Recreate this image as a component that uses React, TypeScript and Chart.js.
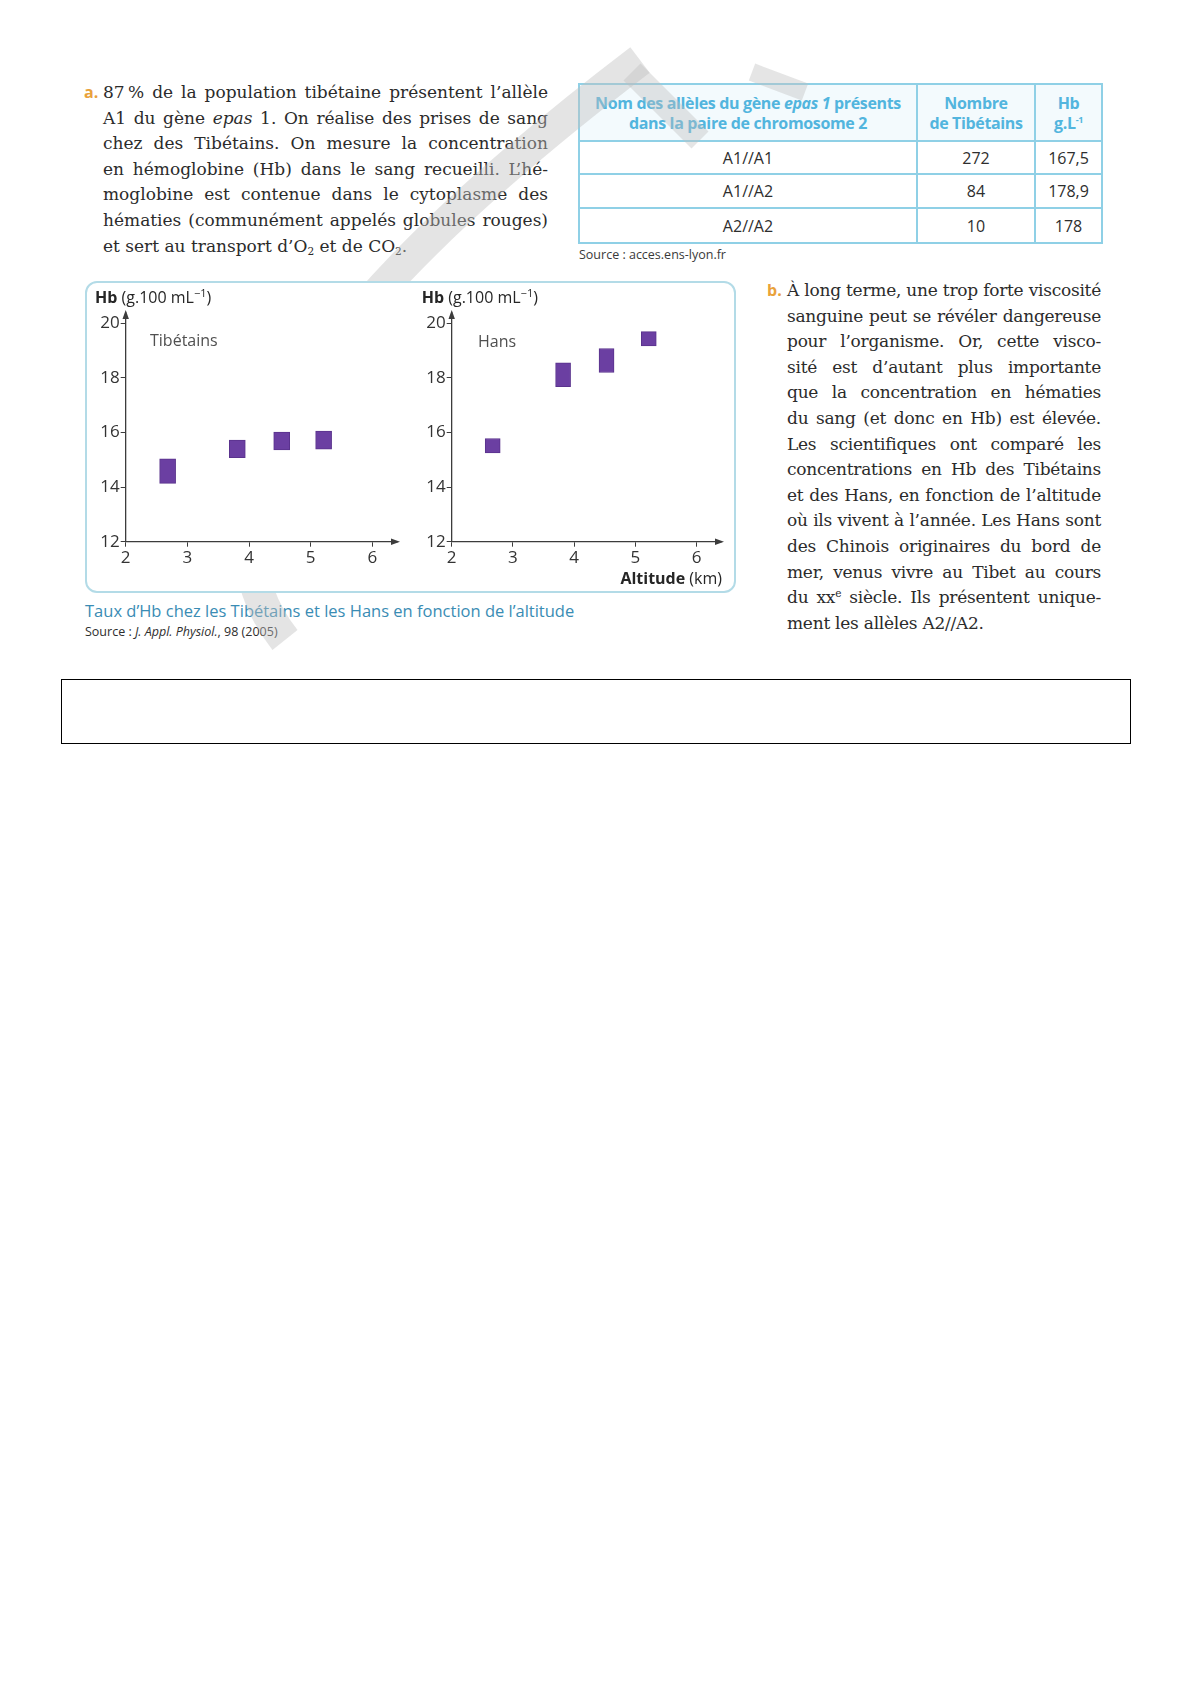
import React, { useEffect, useRef } from "react";
import { Chart, registerables } from "chart.js";

Chart.register(...registerables);

// ---------- data ----------
const altitudeTicks = [2, 3, 4, 5, 6];
const hbTicks = [12, 14, 16, 18, 20];

const tibetAltitudes = [2.68, 3.81, 4.53, 5.21];
const tibetHbLow = [14.14, 15.08, 15.36, 15.39];
const tibetHbHigh = [15.04, 15.72, 16.02, 16.05];

const hanAltitudes = [2.67, 3.82, 4.53, 5.22];
const hanHbLow = [15.25, 17.68, 18.2, 19.17];
const hanHbHigh = [15.78, 18.55, 19.08, 19.7];

const tableAlleles = ["A1//A1", "A1//A2", "A2//A2"];
const tableCounts = ["272", "84", "10"];
const tableHb = ["167,5", "178,9", "178"];

// ---------- chart helpers ----------
const FONT = '"Open Sans", "Noto Sans", sans-serif';
const AXIS = "#3c3c3c";

const decorPlugin = {
  id: "decor",
  afterDraw(chart: any, _args: any, opts: any) {
    const { ctx, chartArea } = chart;
    const { left, top, right, bottom } = chartArea;
    ctx.save();
    ctx.fillStyle = AXIS;
    ctx.beginPath();
    ctx.moveTo(left, top - 3);
    ctx.lineTo(left - 3.2, top + 6);
    ctx.lineTo(left + 3.2, top + 6);
    ctx.closePath();
    ctx.fill();
    ctx.beginPath();
    ctx.moveTo(right + 3, bottom);
    ctx.lineTo(right - 6, bottom - 3.2);
    ctx.lineTo(right - 6, bottom + 3.2);
    ctx.closePath();
    ctx.fill();

    ctx.textBaseline = "alphabetic";
    ctx.textAlign = "left";
    ctx.fillStyle = "#262626";
    let x = opts.titleX;
    const y = opts.titleY;
    ctx.font = `bold 16px ${FONT}`;
    ctx.fillText("Hb", x, y);
    x += ctx.measureText("Hb").width;
    ctx.font = `16px ${FONT}`;
    ctx.fillText(" (g.100 mL", x, y);
    x += ctx.measureText(" (g.100 mL").width;
    ctx.font = `11px ${FONT}`;
    ctx.fillText("\u22121", x, y - 6);
    x += ctx.measureText("\u22121").width;
    ctx.font = `16px ${FONT}`;
    ctx.fillText(")", x, y);

    ctx.fillStyle = "#505050";
    ctx.font = `16px ${FONT}`;
    ctx.fillText(opts.group, opts.groupX, opts.groupY);

    if (opts.showXTitle) {
      ctx.fillStyle = "#262626";
      const rest = " (km)";
      ctx.font = `16px ${FONT}`;
      const wRest = ctx.measureText(rest).width;
      ctx.fillText(rest, opts.xTitleRight - wRest, opts.xTitleY);
      ctx.font = `bold 16px ${FONT}`;
      const wBold = ctx.measureText("Altitude").width;
      ctx.fillText("Altitude", opts.xTitleRight - wRest - wBold, opts.xTitleY);
    }
    ctx.restore();
  },
};

function buildConfig(
  xs: number[],
  lows: number[],
  highs: number[],
  decor: any,
  yAxisWidth: number,
  barThickness: number
) {
  const data = xs.map((x, i) => ({ x, y: [lows[i], highs[i]] }));
  return {
    type: "bar",
    data: {
      datasets: [
        {
          data,
          backgroundColor: "#6b3fa2",
          borderColor: "#5a338d",
          borderWidth: 1,
          borderSkipped: false,
          barThickness,
        },
      ],
    },
    options: {
      animation: false,
      responsive: false,
      maintainAspectRatio: false,
      layout: { padding: { top: 30, right: 10, bottom: 17.3, left: 0 } },
      plugins: {
        legend: { display: false },
        tooltip: { enabled: false },
        decor,
      },
      scales: {
        x: {
          type: "linear",
          min: 2,
          max: 6.4,
          offset: false,
          afterBuildTicks: (s: any) => {
            s.ticks = altitudeTicks.map((v) => ({ value: v }));
          },
          afterFit: (s: any) => {
            s.height = 30;
          },
          grid: {
            display: true,
            offset: false,
            drawOnChartArea: false,
            drawTicks: true,
            tickLength: 5,
            color: AXIS,
            lineWidth: 1,
          },
          border: { display: true, color: AXIS, width: 1.3 },
          ticks: { padding: 1, color: "#333", font: { family: FONT, size: 17 } },
        },
        y: {
          type: "linear",
          min: 12,
          max: 20.38,
          beginAtZero: false,
          afterBuildTicks: (s: any) => {
            s.ticks = hbTicks.map((v) => ({ value: v }));
          },
          afterFit: (s: any) => {
            s.width = yAxisWidth;
          },
          grid: {
            display: true,
            drawOnChartArea: false,
            drawTicks: true,
            tickLength: 5,
            color: AXIS,
            lineWidth: 1,
          },
          border: { display: true, color: AXIS, width: 1.3 },
          ticks: { padding: 1, color: "#333", font: { family: FONT, size: 17 } },
        },
      },
    },
    plugins: [decorPlugin],
  };
}

function HbChart(props: {
  xs: number[];
  lows: number[];
  highs: number[];
  decor: any;
  yAxisWidth: number;
  barThickness: number;
  left: number;
  width: number;
}) {
  const ref = useRef<HTMLCanvasElement | null>(null);
  useEffect(() => {
    if (!ref.current) return;
    const chart = new Chart(
      ref.current,
      buildConfig(props.xs, props.lows, props.highs, props.decor, props.yAxisWidth, props.barThickness) as any
    );
    return () => chart.destroy();
  }, []);
  return (
    <canvas
      ref={ref}
      width={props.width}
      height={306}
      style={{ position: "absolute", left: props.left, top: 0, width: props.width, height: 306 }}
    />
  );
}

// ---------- text helpers ----------
const SERIF = '"DejaVu Serif", serif';

function Para(props: { left: number; top: number; width: number; lines: React.ReactNode[]; size: number; ls: number }) {
  return (
    <div
      style={{
        position: "absolute",
        left: props.left,
        top: props.top,
        width: props.width,
        fontFamily: SERIF,
        fontSize: props.size,
        letterSpacing: props.ls,
        color: "#2b2b2b",
      }}
    >
      {props.lines.map((l, i) => (
        <div
          key={i}
          style={{
            height: 25.6,
            lineHeight: "25.6px",
            whiteSpace: "nowrap",
            textAlign: "justify",
            textAlignLast: i === props.lines.length - 1 ? "left" : "justify",
          } as any}
        >
          {l}
        </div>
      ))}
    </div>
  );
}

const subStyle: React.CSSProperties = { fontSize: "0.62em", verticalAlign: "-0.3em", lineHeight: 0 };
const supStyle: React.CSSProperties = { fontSize: "0.62em", verticalAlign: "0.55em", lineHeight: 0 };

const linesA: React.ReactNode[] = [
  "87\u202F% de la population tibétaine présentent l’allèle",
  <>A1 du gène <i>epas</i> 1. On réalise des prises de sang</>,
  "chez des Tibétains. On mesure la concentration",
  "en hémoglobine (Hb) dans le sang recueilli. L’hé-",
  "moglobine est contenue dans le cytoplasme des",
  "hématies (communément appelés globules rouges)",
  <>et sert au transport d’O<span style={subStyle}>2</span> et de CO<span style={subStyle}>2</span>.</>,
];

const linesB: React.ReactNode[] = [
  "À long terme, une trop forte viscosité",
  "sanguine peut se révéler dangereuse",
  "pour l’organisme. Or, cette visco-",
  "sité est d’autant plus importante",
  "que la concentration en hématies",
  "du sang (et donc en Hb) est élevée.",
  "Les scientifiques ont comparé les",
  "concentrations en Hb des Tibétains",
  "et des Hans, en fonction de l’altitude",
  "où ils vivent à l’année. Les Hans sont",
  "des Chinois originaires du bord de",
  "mer, venus vivre au Tibet au cours",
  <>du xx<span style={supStyle}>e</span> siècle. Ils présentent unique-</>,
  "ment les allèles A2//A2.",
];

const TBORDER = "2px solid #8fd0e6";
const headStyle: React.CSSProperties = {
  border: TBORDER,
  color: "#52b5de",
  fontWeight: 700,
  fontSize: 16,
  letterSpacing: -0.35,
  lineHeight: "20px",
  textAlign: "center",
  background: "#f3fafd",
  padding: 0,
};
const cellStyle: React.CSSProperties = {
  border: TBORDER,
  color: "#2e2e2e",
  fontSize: 16,
  textAlign: "center",
  padding: 0,
};

export default function App() {
  return (
    <div
      style={{
        position: "absolute",
        left: 0,
        top: 0,
        width: 1191,
        height: 1684,
        background: "#fff",
        fontFamily: FONT,
        overflow: "hidden",
      }}
    >
      {/* a. paragraph */}
      <div style={{ position: "absolute", left: 84, top: 80, lineHeight: "25.6px", color: "#e9a23b", fontWeight: 700, fontSize: 16 }}>
        a.
      </div>
      <Para left={103} top={80} width={445} lines={linesA} size={17} ls={0} />

      {/* table */}
      <table
        style={{
          position: "absolute",
          left: 578,
          top: 83,
          width: 523,
          borderCollapse: "collapse",
          fontFamily: FONT,
          tableLayout: "fixed",
        }}
      >
        <colgroup>
          <col style={{ width: 338 }} />
          <col style={{ width: 118 }} />
          <col style={{ width: 67 }} />
        </colgroup>
        <tbody>
          <tr style={{ height: 57 }}>
            <td style={headStyle}>
              Nom des allèles du gène <i>epas 1</i> présents
              <br />
              dans la paire de chromosome 2
            </td>
            <td style={headStyle}>
              Nombre
              <br />
              de Tibétains
            </td>
            <td style={headStyle}>
              Hb
              <br />
              g.L<span style={{ fontSize: 9, verticalAlign: "6px", lineHeight: 0 }}>-1</span>
            </td>
          </tr>
          {tableAlleles.map((a, i) => (
            <tr key={a} style={{ height: i === 0 ? 33 : i === 1 ? 34 : 35 }}>
              <td style={cellStyle}>{a}</td>
              <td style={cellStyle}>{tableCounts[i]}</td>
              <td style={cellStyle}>{tableHb[i]}</td>
            </tr>
          ))}
        </tbody>
      </table>
      <div style={{ position: "absolute", left: 579, top: 246, fontSize: 12.5, lineHeight: "17px", color: "#3a3a3a" }}>
        Source : acces.ens-lyon.fr
      </div>

      {/* watermark */}
      <svg
        width={1191}
        height={760}
        style={{ position: "absolute", left: 0, top: 0, zIndex: 1, pointerEvents: "none" }}
      >
        <path d="M 640 60 C 430 220, 150 470, 285 640" stroke="rgba(190,190,190,0.42)" strokeWidth={32} fill="none" />
        <path d="M 632 72 L 700 140" stroke="rgba(190,190,190,0.4)" strokeWidth={24} fill="none" />
        <path d="M 752 72 L 805 92" stroke="rgba(190,190,190,0.4)" strokeWidth={18} fill="none" />
      </svg>

      {/* chart box */}
      <div
        style={{
          position: "absolute",
          left: 85,
          top: 281,
          width: 651,
          height: 312,
          boxSizing: "border-box",
          border: "2px solid #b3dbe7",
          borderRadius: 12,
          background: "#fff",
          zIndex: 2,
        }}
      >
        <HbChart
          xs={tibetAltitudes}
          lows={tibetHbLow}
          highs={tibetHbHigh}
          decor={{ titleX: 8, titleY: 20, group: "Tibétains", groupX: 63, groupY: 63, showXTitle: false }}
          yAxisWidth={38.7}
          barThickness={16}
          left={0}
          width={320}
        />
        <HbChart
          xs={hanAltitudes}
          lows={hanHbLow}
          highs={hanHbHigh}
          decor={{
            titleX: 11.7,
            titleY: 20,
            group: "Hans",
            groupX: 68,
            groupY: 64,
            showXTitle: true,
            xTitleRight: 312,
            xTitleY: 301,
          }}
          yAxisWidth={41.7}
          barThickness={15}
          left={323}
          width={321}
        />
      </div>

      {/* caption */}
      <div style={{ position: "absolute", left: 85, top: 600, fontSize: 16.5, lineHeight: "22px", color: "#3a8cb4", zIndex: 0 }}>
        Taux d’Hb chez les Tibétains et les Hans en fonction de l’altitude
      </div>
      <div style={{ position: "absolute", left: 85, top: 623, fontSize: 12.5, lineHeight: "17px", color: "#2e2e2e", zIndex: 0 }}>
        Source : <i>J. Appl. Physiol.</i>, 98 (2005)
      </div>

      {/* b. paragraph */}
      <div style={{ position: "absolute", left: 767, top: 278, lineHeight: "25.6px", color: "#e9a23b", fontWeight: 700, fontSize: 16 }}>
        b.
      </div>
      <Para left={787} top={278} width={314} lines={linesB} size={17} ls={-0.25} />

      {/* answer box */}
      <div
        style={{
          position: "absolute",
          left: 61,
          top: 679,
          width: 1070,
          height: 65,
          boxSizing: "border-box",
          border: "1.5px solid #000",
        }}
      />
    </div>
  );
}
